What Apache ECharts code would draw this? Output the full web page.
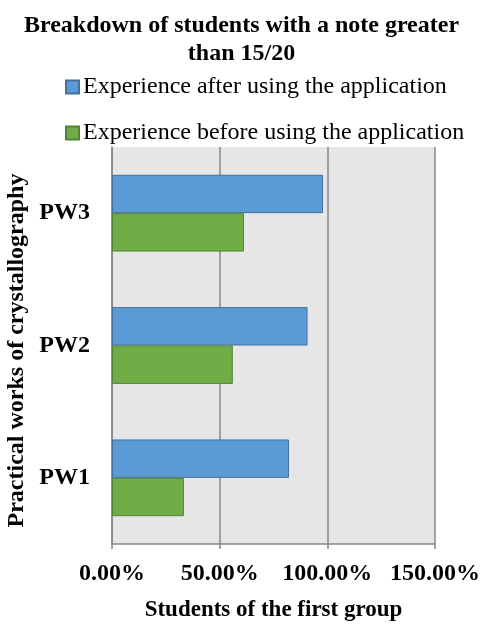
<!DOCTYPE html>
<html>
<head>
<meta charset="utf-8">
<script src="https://cdn.jsdelivr.net/npm/echarts@6/dist/echarts.min.js"></script>
<style>
  html, body { margin: 0; padding: 0; background: #fff; }
  #chart { width: 483px; height: 628px; }
</style>
</head>
<body>
<div id="chart"></div>
<script>
// Practical works, listed bottom to top along the category axis
const categories = ['PW1', 'PW2', 'PW3'];
// Share of students above 15/20, in percent
const afterApp = [82.2, 90.8, 98.0];
const beforeApp = [33.4, 56.1, 61.3];
const xTicks = [0, 50, 100, 150];

const serif = '"Liberation Serif", "Times New Roman", serif';
const chart = echarts.init(document.getElementById('chart'));

chart.setOption({
  animation: false,
  backgroundColor: '#ffffff',
  title: {
    text: 'Breakdown of students with a note greater\nthan 15/20',
    left: 'center',
    top: 7,
    textStyle: { fontFamily: serif, fontSize: 24, fontWeight: 'bold', color: '#000', lineHeight: 28 }
  },
  legend: {
    orient: 'vertical',
    left: 60,
    top: 70,
    itemWidth: 13,
    itemHeight: 13,
    itemGap: 22,
    icon: 'rect',
    data: ['Experience after using the application', 'Experience before using the application'],
    textStyle: { fontFamily: serif, fontSize: 24, color: '#000', padding: [0, 0, 0, -1] }
  },
  grid: {
    left: 112,
    right: 48,
    top: 147,
    bottom: 84,
    containLabel: false,
    outerBoundsMode: 'none',
    show: true,
    backgroundColor: '#e6e6e6',
    borderWidth: 0
  },
  xAxis: {
    type: 'value',
    min: xTicks[0],
    max: xTicks[xTicks.length - 1],
    interval: xTicks[1] - xTicks[0],
    name: 'Students of the first group',
    nameLocation: 'middle',
    nameGap: 55,
    nameTextStyle: { fontFamily: serif, fontSize: 23, fontWeight: 'bold', color: '#000' },
    axisLine: { show: true, lineStyle: { color: '#878787', width: 1.5 } },
    axisTick: { show: true, length: 5, lineStyle: { color: '#878787', width: 1.5 } },
    splitLine: { show: true, lineStyle: { color: '#878787', width: 1.5 } },
    axisLabel: {
      margin: 18,
      fontFamily: serif, fontSize: 24, fontWeight: 'bold', color: '#000',
      formatter: v => v.toFixed(2) + '%'
    }
  },
  yAxis: {
    type: 'category',
    data: categories,
    name: 'Practical works of crystallography',
    nameLocation: 'middle',
    nameGap: 75,
    nameRotate: 90,
    nameTextStyle: { fontFamily: serif, fontSize: 24, fontWeight: 'bold', color: '#000', padding: [0, 10, 0, 0] },
    axisLine: { show: true, lineStyle: { color: '#878787', width: 1.5 } },
    axisTick: { show: false },
    axisLabel: { margin: 22, fontFamily: serif, fontSize: 24, fontWeight: 'bold', color: '#000' }
  },
  series: [
    {
      name: 'Experience after using the application',
      type: 'bar',
      data: afterApp,
      barGap: '0%',
      barCategoryGap: '42%',
      itemStyle: { color: '#5b9bd5', borderColor: '#41719c', borderWidth: 1 }
    },
    {
      name: 'Experience before using the application',
      type: 'bar',
      data: beforeApp,
      barGap: '0%',
      barCategoryGap: '42%',
      itemStyle: { color: '#70ad47', borderColor: '#548235', borderWidth: 1 }
    }
  ]
});
</script>
</body>
</html>
